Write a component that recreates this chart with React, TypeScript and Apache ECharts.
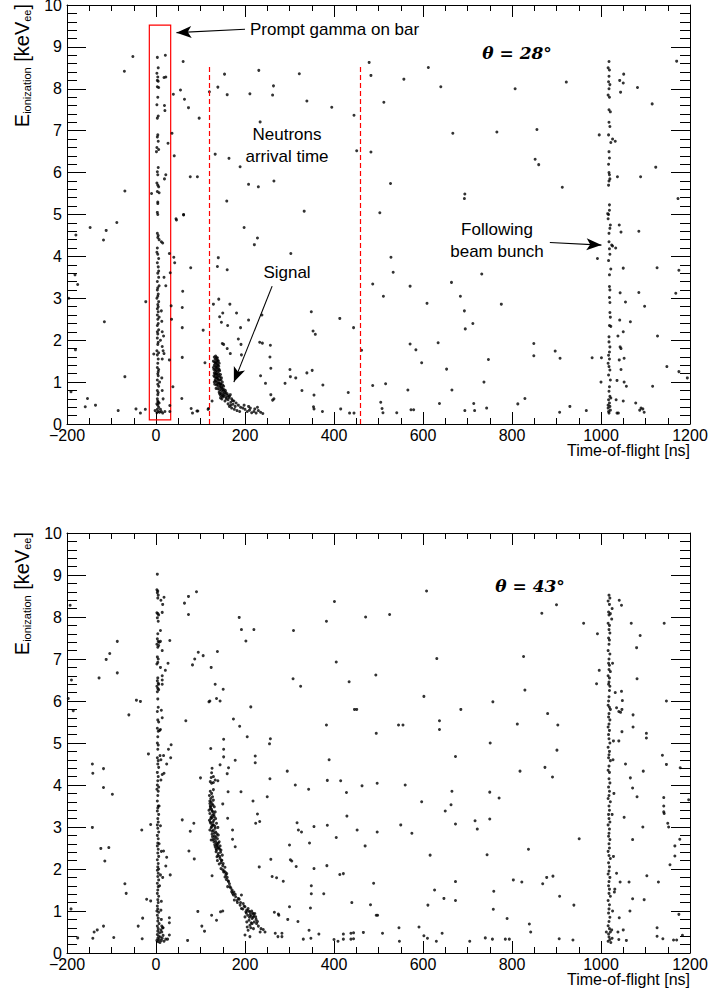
import React, { useEffect, useRef } from "react";
import * as echarts from "echarts";

// ---------- axis ranges / ticks ----------
const X_MIN = -200;
const X_MAX = 1200;
const X_STEP = 200;
const Y_MIN = 0;
const Y_MAX = 10;
const Y_STEP = 1;

// ---------- TOP PANEL (theta = 28 deg) : [time-of-flight ns, E keVee] ----------
const topPromptBand: number[][] = [
  [3, 8.75], [5, 8.5], [2, 8.37], [4, 8.28], [3, 8.2], [5, 8.18], [3, 8.05], [6, 8.03], [4, 7.8], [2, 7.62],
  [5, 7.35], [3, 7.3], [4, 6.9], [3, 6.85], [5, 6.75], [2, 6.6], [6, 6.55], [1, 6.5], [5, 6.12], [3, 6.02],
  [4, 5.95], [2, 5.75], [4, 5.7], [6, 5.66], [3, 5.55], [7, 5.52], [4, 5.3], [3, 5.05], [4, 5.0], [4, 5.26],
  [3, 4.55], [5, 4.5], [4, 4.45], [7, 4.4], [12, 4.35], [15, 4.32], [3, 4.2], [4, 4.05], [6, 3.95], [3, 3.85],
  [5, 3.75], [4, 3.6], [6, 3.5], [3, 3.4], [7, 3.3], [3, 3.2], [5, 3.1], [4, 3.05], [2, 3.0], [6, 2.92],
  [4, 2.85], [3, 2.75], [5, 2.68], [12, 2.7], [3, 2.6], [4, 2.5], [5, 2.4], [13, 2.45], [3, 2.35], [6, 2.25],
  [4, 2.15], [17, 2.1], [3, 2.05], [5, 1.95], [4, 1.9], [14, 1.85], [2, 1.75], [6, 1.7], [-5, 1.67], [3, 1.65],
  [16, 1.75], [18, 1.68], [5, 1.55], [4, 1.45], [14, 1.55], [3, 1.35], [6, 1.3], [4, 1.2], [5, 1.15], [3, 1.05],
  [13, 1.1], [4, 0.95], [6, 0.9], [3, 0.8], [5, 0.75], [14, 0.8], [4, 0.7], [16, 0.6], [3, 0.6], [5, 0.52],
  [2, 0.48], [4, 0.45], [6, 0.4], [3, 0.35], [5, 0.3], [8, 0.28], [12, 0.3], [2, 0.27], [15, 0.26], [20, 0.3],
  [10, 0.35], [7, 0.5], [-2, 0.32], [4, 3.25], [5, 2.8], [3, 2.2], [5, 1.25], [4, 0.55], [6, 3.65], [2, 4.1],
  [7, 2.55], [18, 3.5], [22, 3.3], [14, 2.2], [10, 2.0], [8, 1.0],
];

const topBeamBand: number[][] = [
  [1018, 8.65], [1016, 8.5], [1019, 8.45], [1018, 8.3], [1017, 8.17], [1020, 8.1], [1018, 8.0], [1016, 7.85],
  [1019, 7.8], [1018, 7.5], [1021, 7.45], [1018, 7.2], [1020, 7.1], [1017, 6.9], [1022, 6.72], [1018, 6.5],
  [1019, 6.35], [1017, 6.2], [1018, 6.0], [1019, 5.95], [1020, 5.85], [1018, 5.8], [1017, 5.7], [1019, 5.1],
  [1016, 4.9], [1019, 5.23], [1017, 5.0], [1021, 4.75], [1020, 4.67], [1018, 4.55], [1018, 4.35], [1019, 4.18],
  [1020, 4.05], [1024, 4.27], [1026, 4.25], [1022, 3.7], [1019, 3.56], [1019, 3.28], [1020, 3.2], [1019, 3.02],
  [1020, 2.66], [1021, 2.55], [1019, 2.35], [1022, 2.33], [1018, 2.08], [1018, 1.96], [1020, 1.84], [1019, 1.72],
  [1017, 1.64], [1019, 1.55], [1018, 1.37], [1020, 1.29], [1017, 1.17], [1021, 1.05], [1019, 0.89], [1018, 0.78],
  [1020, 0.66], [1017, 0.58], [1019, 0.5], [1016, 0.38], [1021, 0.33], [1018, 0.26], [1016, 0.45], [1020, 0.42],
  [1017, 0.3], [1022, 0.62], [1016, 1.45], [1020, 2.9], [1017, 3.9],
  [1041, 4.75], [1045, 4.58], [1033, 4.2], [1050, 3.72], [1043, 3.13], [1055, 2.91], [1042, 2.48], [1066, 2.44],
  [1050, 2.2], [1038, 2.1], [1043, 1.84], [1045, 1.8], [1052, 1.57], [1041, 1.53], [1045, 1.3], [1036, 1.04],
  [1052, 1.0], [1057, 0.9], [1050, 0.55], [1034, 0.58], [1036, 0.26], [1039, 0.26], [1000, 1.0], [1001, 1.58],
  [980, 1.58], [992, 3.95],
];

const topSignal: number[][] = [
  [131, 1.6], [134, 1.62], [138, 1.58], [133, 1.55], [136, 1.52], [140, 1.5], [132, 1.48], [135, 1.45], [138, 1.42],
  [142, 1.45], [131, 1.4], [134, 1.38], [137, 1.35], [140, 1.32], [133, 1.3], [136, 1.28], [139, 1.25], [143, 1.27],
  [131, 1.22], [134, 1.2], [137, 1.18], [141, 1.15], [145, 1.18], [132, 1.12], [135, 1.1], [139, 1.08], [143, 1.05],
  [147, 1.1], [134, 1.02], [137, 1.0], [141, 0.98], [145, 0.96], [149, 1.0], [136, 0.93], [140, 0.9], [144, 0.88],
  [148, 0.86], [152, 0.9], [139, 0.84], [143, 0.82], [147, 0.8], [151, 0.78], [156, 0.8], [142, 0.76], [146, 0.73],
  [150, 0.72], [155, 0.7], [160, 0.72], [145, 0.68], [152, 0.65], [158, 0.64], [165, 0.66], [148, 0.6], [162, 0.58],
  [170, 0.6], [175, 0.55], [168, 0.52], [155, 0.55], [180, 0.5], [137, 1.48], [135, 1.35], [138, 1.13], [133, 1.05],
  [146, 0.95], [141, 1.2], [129, 1.35], [130, 1.15], [150, 0.93], [154, 0.75], [149, 0.66],
  [129, 1.5], [130, 1.3], [131, 1.0], [132, 0.95], [133, 1.45], [134, 1.25], [135, 0.85], [136, 1.58], [137, 1.1],
  [138, 0.95], [139, 1.4], [140, 1.05], [142, 1.3], [142, 0.98], [144, 1.12], [146, 1.05], [136, 1.2], [133, 1.18],
  [139, 1.52], [141, 1.38], [144, 0.93], [147, 0.88], [150, 0.83], [153, 0.82], [157, 0.75], [161, 0.68],
  [164, 0.63], [167, 0.7], [172, 0.56], [158, 0.6], [145, 0.62], [143, 0.72], [151, 0.68],
  [162, 0.48], [168, 0.45], [173, 0.47], [178, 0.42], [185, 0.45], [190, 0.4], [170, 0.38], [176, 0.35], [182, 0.32],
  [195, 0.38], [200, 0.35], [205, 0.3], [210, 0.33], [215, 0.27], [220, 0.3], [225, 0.26], [230, 0.32], [235, 0.28],
  [240, 0.25], [198, 0.45], [208, 0.42], [188, 0.3], [212, 0.38], [222, 0.36], [228, 0.4], [165, 0.42],
];

const topScatter: number[][] = [
  [-52, 8.77], [-71, 8.42], [-70, 5.56], [21, 8.8], [18, 8.27], [22, 8.28], [19, 7.6], [20, 7.48], [36, 6.94],
  [27, 6.7], [41, 6.4], [22, 5.95], [19, 5.85], [-10, 5.5], [61, 8.65], [39, 7.87], [55, 7.97], [64, 7.75],
  [73, 7.55], [97, 7.3], [77, 5.9], [93, 5.9], [62, 5.0], [45, 4.9], [120, 7.93], [139, 8.04], [154, 8.35],
  [160, 7.86], [133, 6.44], [164, 6.34], [189, 6.14], [159, 5.32], [208, 5.72], [230, 5.66], [265, 5.8],
  [211, 7.88], [231, 8.44], [234, 7.21], [264, 8.07], [262, 7.85], [322, 8.36], [339, 7.71], [333, 5.08],
  [395, 7.56], [445, 7.37], [451, 6.52], [479, 8.63], [483, 8.32], [483, 6.49], [512, 7.68], [557, 8.23],
  [612, 8.51], [640, 8.05], [667, 6.94], [527, 5.74], [694, 5.49], [693, 5.38], [503, 5.04], [766, 6.97],
  [807, 8.0], [856, 7.03], [852, 6.32], [860, 6.19], [913, 5.65], [922, 8.16], [996, 6.9], [1051, 8.35],
  [1042, 8.2], [1050, 8.14], [1044, 7.92], [1082, 8.03], [1115, 7.64], [1170, 8.66], [1123, 6.13], [1089, 5.9],
  [1037, 5.9], [1173, 5.38], [1015, 5.02], [1026, 6.8], [1032, 6.75],
  [-191, 0.77], [-182, 3.56], [-176, 3.33], [-196, 3.0], [-181, 1.77], [-180, 4.51], [-148, 4.69], [-112, 4.62],
  [-88, 4.81], [-118, 4.39], [-116, 2.44], [-70, 1.13], [-154, 0.61], [-159, 0.41], [-136, 0.45], [-85, 0.32],
  [-45, 0.36], [-35, 0.26], [-24, 0.35], [-23, 2.92], [30, 4.07], [32, 3.61], [34, 2.82], [35, 2.5], [30, 1.53],
  [38, 0.89], [31, 0.44], [31, 0.3], [40, 3.98], [42, 3.85], [46, 4.87], [62, 4.99], [60, 3.17], [59, 2.78],
  [59, 2.3], [59, 1.59], [58, 0.61], [78, 3.73], [79, 0.37], [82, 0.26], [94, 0.31], [106, 2.24], [110, 1.46],
  [118, 0.37], [129, 2.86], [140, 3.97], [138, 3.76], [141, 2.98], [160, 3.68], [150, 2.65], [143, 2.56],
  [147, 2.43], [161, 2.35], [166, 2.86], [181, 2.65], [149, 1.92], [152, 1.9], [160, 1.8], [167, 1.68], [190, 2.3],
  [208, 2.48], [198, 4.69], [228, 4.44], [221, 4.28], [303, 4.07], [238, 2.6], [185, 2.03], [191, 1.9], [192, 1.65],
  [233, 1.95], [239, 1.93], [257, 1.88], [256, 1.6], [258, 1.33], [235, 1.15], [246, 0.97], [258, 0.7], [262, 0.57],
  [265, 0.6], [301, 1.3], [302, 1.13], [290, 0.97], [314, 1.1], [328, 0.8], [339, 1.22], [351, 1.28], [349, 2.68],
  [353, 2.22], [358, 2.14], [355, 0.69], [354, 0.41], [355, 0.36], [374, 0.3], [375, 0.93], [413, 2.52],
  [444, 2.3], [432, 0.75], [415, 0.36], [435, 0.26], [445, 0.26], [92, 0.31], [117, 0.35], [126, 0.55],
  [487, 3.34], [511, 3.05], [528, 3.98], [533, 3.62], [571, 3.29], [609, 2.88], [664, 3.38], [684, 3.05],
  [693, 2.7], [695, 2.27], [712, 2.4], [732, 3.58], [776, 2.86], [571, 1.91], [584, 1.77], [597, 1.46],
  [634, 1.94], [653, 1.31], [665, 0.81], [566, 0.81], [516, 0.96], [487, 0.92], [505, 0.52], [508, 0.37],
  [510, 0.27], [541, 0.27], [573, 0.34], [579, 0.34], [637, 0.49], [694, 0.32], [716, 0.32], [714, 0.49],
  [737, 1.0], [747, 1.54], [743, 0.38], [813, 0.48], [829, 0.61], [849, 1.92], [849, 1.63], [897, 1.74],
  [908, 1.57], [907, 0.28], [930, 0.42], [967, 0.32], [462, 1.76], [1085, 4.6], [1126, 3.73], [1085, 3.14],
  [1098, 2.81], [1127, 2.1], [1148, 1.37], [1175, 1.25], [1194, 1.1], [1116, 0.9], [1078, 0.5], [1087, 0.33],
  [1090, 0.38], [1094, 0.36], [1097, 0.28], [1175, 3.67], [1168, 3.12],
];

// ---------- BOTTOM PANEL (theta = 43 deg) ----------
const bottomPromptBand: number[][] = [
  [3, 9.02], [2, 8.65], [4, 8.62], [3, 8.58], [5, 8.52], [4, 8.45], [2, 8.1], [4, 8.08], [6, 8.05], [3, 7.98],
  [5, 7.9], [4, 7.6], [3, 7.48], [5, 7.42], [2, 7.35], [6, 7.32], [4, 7.28], [3, 7.05], [5, 7.0], [4, 6.92],
  [2, 6.88], [4, 6.55], [3, 6.48], [5, 6.42], [2, 6.35], [4, 6.3], [6, 6.27], [3, 6.22], [4, 6.05], [5, 5.85],
  [3, 5.75], [4, 5.55], [6, 5.5], [3, 5.35], [5, 5.28], [4, 5.15], [3, 5.0], [5, 4.95], [4, 4.85], [3, 4.65],
  [5, 4.58], [4, 4.5], [6, 4.42], [3, 4.3], [5, 4.2], [4, 4.1], [3, 4.0], [6, 3.95], [5, 3.85], [4, 3.75],
  [3, 3.62], [5, 3.5], [4, 3.45], [3, 3.38], [6, 3.3], [4, 3.2], [5, 3.12], [3, 3.05], [4, 2.97], [6, 2.88],
  [3, 2.8], [5, 2.72], [4, 2.62], [3, 2.55], [5, 2.47], [4, 2.38], [6, 2.3], [3, 2.22], [5, 2.13], [4, 2.05],
  [3, 1.97], [5, 1.9], [4, 1.82], [6, 1.74], [3, 1.66], [5, 1.58], [4, 1.5], [3, 1.42], [6, 1.35], [4, 1.27],
  [5, 1.2], [3, 1.12], [4, 1.05], [6, 0.97], [3, 0.9], [5, 0.83], [4, 0.76], [7, 0.7], [3, 0.64], [5, 0.58],
  [4, 0.52], [8, 0.48], [3, 0.44], [6, 0.4], [10, 0.38], [4, 0.35], [7, 0.32], [2, 0.3], [12, 0.3], [5, 0.27],
  [9, 0.25], [14, 0.35], [16, 0.42], [11, 0.55], [15, 0.6], [13, 0.5], [18, 0.28], [2, 3.9], [6, 2.0], [2, 1.0],
  [8, 1.6], [7, 2.6], [7, 3.5], [9, 4.7], [8, 5.3], [6, 6.4], [7, 7.4],
];

const bottomBeamBand: number[][] = [
  [1018, 8.52], [1020, 8.45], [1016, 8.38], [1019, 8.3], [1017, 8.12], [1021, 8.08], [1018, 8.05], [1016, 7.85],
  [1019, 7.8], [1018, 7.7], [1020, 7.62], [1017, 7.5], [1019, 7.45], [1018, 7.35], [1016, 7.2], [1020, 7.12],
  [1018, 7.0], [1017, 6.9], [1019, 6.85], [1018, 6.75], [1021, 6.7], [1016, 6.6], [1019, 6.55], [1018, 6.45],
  [1017, 6.4], [1020, 6.35], [1019, 6.25], [1018, 6.1], [1017, 6.0], [1016, 5.9], [1019, 5.85], [1021, 5.8],
  [1018, 5.7], [1017, 5.62], [1020, 5.55], [1018, 5.45], [1016, 5.38], [1019, 5.3], [1017, 5.2], [1018, 5.1],
  [1020, 5.0], [1016, 4.9], [1019, 4.8], [1018, 4.72], [1017, 4.65], [1021, 4.58], [1018, 4.45], [1016, 4.35],
  [1019, 4.3], [1018, 4.15], [1020, 4.05], [1017, 3.95], [1019, 3.85], [1018, 3.75], [1016, 3.68], [1021, 3.6],
  [1018, 3.5], [1019, 3.4], [1017, 3.3], [1018, 3.2], [1020, 3.12], [1016, 3.05], [1019, 2.95], [1018, 2.85],
  [1017, 2.78], [1020, 2.7], [1018, 2.6], [1019, 2.5], [1016, 2.42], [1018, 2.32], [1021, 2.25], [1017, 2.15],
  [1019, 2.05], [1018, 1.95], [1016, 1.88], [1020, 1.8], [1018, 1.7], [1017, 1.6], [1019, 1.52], [1018, 1.42],
  [1021, 1.35], [1016, 1.25], [1019, 1.15], [1018, 1.05], [1017, 0.95], [1020, 0.85], [1018, 0.75], [1016, 0.65],
  [1019, 0.58], [1021, 0.5], [1017, 0.45], [1018, 0.38], [1020, 0.32], [1016, 0.28], [1022, 0.25], [1025, 0.35],
  [1024, 0.55], [1026, 1.0], [1028, 2.3], [1025, 3.3], [1027, 4.6], [1026, 6.9], [1025, 8.2], [1024, 7.95],
  [1012, 0.5], [1030, 1.45], [1029, 3.8], [1028, 5.05],
];

const bottomCurve: number[][] = [
  [126, 4.4], [125, 4.29], [124, 4.18], [129, 4.2], [122, 4.08], [125, 4.04], [129, 4.06], [133, 4.12], [139, 4.1],
  [129, 3.89], [125, 3.8], [123, 3.68], [121, 3.56], [123, 3.48], [119, 3.4], [121, 3.32], [124, 3.24], [120, 3.16],
  [123, 3.09], [125, 3.01], [121, 2.93], [129, 3.64], [131, 3.48], [133, 3.36], [127, 3.28], [130, 3.16], [134, 3.2],
  [136, 3.09], [129, 3.05], [133, 2.97], [139, 2.99], [131, 2.85], [135, 2.77], [140, 2.81], [127, 2.77], [124, 2.69],
  [130, 2.65], [136, 2.61], [142, 2.65], [133, 2.53], [139, 2.51], [144, 2.55], [135, 2.41], [140, 2.37], [146, 2.45],
  [149, 2.33], [137, 2.29], [144, 2.25], [148, 2.21], [142, 2.12], [151, 2.13], [155, 2.04], [146, 2.01], [152, 1.93],
  [159, 1.89], [155, 1.81], [160, 1.8], [163, 1.7], [166, 1.58], [161, 1.58], [170, 1.46], [174, 1.38], [179, 1.34],
  [176, 1.26], [185, 1.3], [192, 1.38], [183, 1.2], [189, 1.14], [196, 1.18], [192, 1.06], [200, 1.1], [204, 1.02],
  [207, 1.06], [211, 0.98], [215, 1.0], [206, 0.9], [213, 0.88], [219, 0.93], [222, 0.94], [200, 0.86], [209, 0.78],
  [216, 0.82], [221, 0.74], [204, 0.74], [211, 0.66], [226, 0.7], [230, 0.64], [207, 0.54], [219, 0.58], [236, 0.58],
  [241, 0.56], [200, 0.43], [211, 0.39], [234, 0.5], [245, 0.5], [122, 3.85], [127, 3.72], [124, 3.6], [128, 3.52],
  [122, 3.44], [126, 3.38], [130, 3.3], [123, 3.2], [128, 3.12], [126, 2.9], [132, 2.72], [138, 2.58], [143, 2.47],
  [136, 2.45], [147, 2.2], [150, 1.98], [157, 1.86], [165, 1.65], [172, 1.42], [182, 1.25], [195, 1.05], [203, 0.95],
  [212, 0.92], [218, 0.85], [225, 0.8], [214, 0.72], [205, 0.62],
  [120, 3.75], [121, 3.62], [126, 3.55], [122, 3.5], [125, 3.42], [128, 3.36], [131, 3.25], [126, 3.22], [122, 3.12],
  [127, 3.05], [132, 3.02], [124, 2.98], [129, 2.92], [134, 2.88], [137, 2.84], [126, 2.83], [131, 2.78], [138, 2.72],
  [128, 2.7], [134, 2.66], [140, 2.62], [132, 2.58], [137, 2.55], [141, 2.5], [135, 2.48], [145, 2.4], [139, 2.32],
  [143, 2.3], [138, 2.2], [146, 2.15], [150, 2.08], [153, 1.95], [156, 1.92], [158, 1.75], [162, 1.72], [168, 1.55],
  [171, 1.5], [175, 1.45], [178, 1.4], [187, 1.28], [190, 1.2], [198, 1.12], [202, 0.98], [208, 1.0], [210, 0.85],
  [217, 0.95], [220, 0.88], [224, 0.86], [228, 0.75], [213, 0.6], [216, 0.7],
];

const bottomScatter: number[][] = [
  [-193, 8.28], [-190, 6.5], [-197, 6.06], [-186, 5.77], [-128, 6.55], [-112, 6.99], [-104, 7.13], [-87, 6.67],
  [-87, 7.42], [-61, 5.67], [-44, 6.02], [-35, 5.99], [11, 8.4], [18, 8.47], [15, 8.3], [14, 8.11], [10, 7.68],
  [10, 7.42], [14, 7.2], [10, 6.8], [14, 6.6], [14, 6.5], [14, 6.4], [21, 6.73], [27, 6.9], [31, 7.44], [12, 5.78],
  [10, 5.32], [14, 5.6], [67, 5.53], [64, 8.33], [73, 8.49], [91, 8.6], [73, 8.06], [95, 7.16], [106, 7.08],
  [87, 7.0], [82, 6.86], [124, 6.8], [133, 6.4], [138, 7.18], [151, 6.28], [119, 5.98], [121, 6.0], [136, 6.06],
  [144, 6.0], [174, 5.57], [187, 7.99], [192, 7.7], [220, 7.7], [202, 7.43], [188, 5.4], [213, 5.86], [205, 5.15],
  [152, 5.09], [257, 5.1], [255, 4.98], [309, 7.68], [308, 6.53], [325, 6.35], [383, 7.9], [401, 8.37], [405, 6.93],
  [383, 5.43], [434, 6.46], [446, 5.8], [451, 5.8], [608, 8.62], [471, 8.0], [525, 8.06], [494, 6.62], [631, 7.01],
  [602, 6.11], [495, 5.23], [545, 5.43], [555, 5.43], [637, 5.53], [637, 5.32], [685, 5.8], [757, 5.98], [751, 5.0],
  [812, 5.45], [826, 7.06], [829, 6.26], [867, 8.09], [900, 8.29], [880, 5.7], [903, 5.43], [961, 7.85], [992, 7.6],
  [996, 6.73], [990, 6.41], [1046, 8.28], [1041, 8.4], [1068, 7.85], [1088, 7.56], [1080, 7.27], [1081, 6.53],
  [1142, 7.85], [1147, 6.0], [1046, 6.23], [1048, 6.01], [1047, 5.8], [1044, 5.73], [1047, 5.27], [1072, 5.67],
  [1072, 5.38], [1102, 5.23], [1102, 5.12], [1040, 5.05], [1035, 5.84], [1040, 5.75], [1032, 6.2],
  [-143, 4.5], [-142, 4.28], [-118, 4.39], [-118, 3.94], [-98, 3.78], [-143, 2.99], [-124, 2.49], [-106, 2.51],
  [-115, 2.19], [-70, 1.65], [-67, 1.42], [-191, 1.05], [-176, 0.36], [-142, 0.35], [-139, 0.5], [-132, 0.55],
  [-118, 0.64], [-95, 0.37], [-40, 0.64], [-31, 0.34], [-30, 0.83], [-21, 1.28], [-12, 1.24], [-32, 2.93],
  [-12, 3.06], [-17, 4.74], [11, 4.6], [17, 4.7], [14, 4.25], [18, 4.28], [11, 4.12], [24, 4.5], [28, 4.85],
  [34, 4.96], [33, 4.65], [10, 3.03], [12, 2.42], [17, 2.43], [24, 2.28], [22, 2.07], [10, 1.86], [15, 1.8],
  [32, 1.86], [12, 1.23], [11, 1.02], [12, 0.8], [13, 0.64], [16, 0.6], [30, 0.84], [30, 0.72], [30, 0.43],
  [26, 0.33], [22, 0.33], [59, 3.17], [85, 3.09], [77, 2.9], [74, 2.43], [86, 2.24], [71, 0.3], [94, 0.99],
  [103, 0.64], [109, 0.52], [100, 4.17], [123, 4.87], [126, 1.84], [125, 0.9], [136, 0.78], [145, 0.98], [150, 1.0],
  [144, 4.48], [152, 4.67], [152, 4.85], [163, 4.41], [160, 4.27], [178, 4.59], [191, 3.84], [162, 3.84], [150, 3.55],
  [161, 3.21], [223, 4.69], [223, 4.53], [218, 3.62], [250, 3.72], [256, 4.15], [228, 3.31], [233, 3.13], [224, 3.09],
  [232, 2.05], [258, 2.23], [261, 1.82], [271, 1.79], [286, 1.71], [172, 2.93], [172, 2.71], [178, 2.53], [266, 0.97],
  [275, 0.93], [276, 0.9], [296, 0.8], [300, 1.1], [319, 0.75], [268, 0.47], [274, 0.39], [283, 0.47], [283, 0.39],
  [295, 4.33], [313, 4.0], [343, 3.9], [317, 3.1], [320, 2.93], [327, 2.88], [300, 2.57], [302, 2.22], [305, 2.19],
  [315, 2.06], [345, 2.62], [355, 3.01], [349, 1.6], [349, 1.41], [355, 2.01], [347, 1.07], [344, 0.54], [331, 0.33],
  [348, 0.35], [366, 0.45], [377, 1.41], [384, 2.08], [385, 3.04], [385, 4.11], [389, 4.6], [405, 2.75], [413, 1.87],
  [421, 1.89], [415, 4.1], [428, 3.82], [429, 3.26], [452, 2.93], [440, 1.2], [400, 0.32], [409, 0.28], [421, 0.45],
  [421, 0.33], [444, 0.48], [444, 0.34], [901, 4.83], [673, 4.68], [818, 4.33], [874, 4.42], [891, 4.19], [463, 3.98],
  [497, 4.04], [560, 4.0], [665, 3.85], [750, 3.83], [771, 3.69], [597, 3.6], [663, 3.53], [650, 3.38], [717, 3.15],
  [722, 2.95], [750, 3.19], [673, 3.07], [550, 3.05], [575, 2.85], [497, 2.88], [470, 2.55], [616, 2.33], [744, 2.34],
  [837, 2.47], [951, 2.72], [489, 1.66], [626, 1.5], [673, 1.7], [673, 1.25], [647, 1.3], [611, 1.14], [482, 1.15],
  [759, 1.47], [758, 1.04], [803, 1.74], [822, 1.69], [869, 1.65], [878, 1.8], [892, 1.83], [907, 1.35], [939, 1.14],
  [495, 0.9], [498, 0.9], [789, 0.82], [839, 0.69], [842, 0.5], [546, 0.6], [591, 0.62], [438, 0.47], [438, 0.33],
  [466, 0.49], [509, 0.47], [547, 0.28], [602, 0.41], [610, 0.35], [630, 0.28], [643, 0.47], [705, 0.28], [740, 0.36],
  [756, 0.33], [785, 0.33], [794, 0.33], [906, 0.34], [937, 0.31], [1052, 3.23], [1071, 2.7], [1094, 3.0],
  [1138, 4.71], [1147, 4.49], [1178, 4.41], [1197, 3.65], [1095, 4.33], [1066, 4.17], [1071, 3.93], [1081, 3.72],
  [1055, 4.5], [1141, 3.7], [1141, 3.5], [1141, 3.36], [1142, 3.32], [1150, 3.09], [1152, 3.0], [1177, 2.71],
  [1166, 2.55], [1166, 2.31], [1155, 2.1], [1103, 1.84], [1063, 1.69], [1043, 1.69], [1071, 1.29], [1097, 1.27],
  [1129, 1.69], [1065, 1.0], [1175, 0.92], [1041, 0.84], [1050, 0.55], [1126, 0.6], [1126, 0.4], [1139, 0.34],
  [1163, 0.31], [1170, 0.31], [1183, 0.42], [1040, 0.32], [1057, 0.3], [1038, 0.5], [1035, 1.9], [1031, 1.52],
];

// ---------- annotations (data coordinates) ----------
const promptBox = [[-15, 0.1], [33, 9.52]];
const neutronWindow = [119, 459];
const neutronWindowTop = 8.55;
const promptArrow = [[200, 9.42], [46, 9.34]];
const signalArrow = [[261, 3.29], [175, 1.0]];
const bunchArrow = [[885, 4.33], [1001, 4.27]];

const SANS = '"Liberation Sans", Arial, Helvetica, sans-serif';
const SERIF = '"DejaVu Serif", "Liberation Serif", serif';
const BLACK = "#000";

function fmtX(v: number) {
  return v < 0 ? "\u2212" + Math.abs(v) : String(v);
}

function axesFor(gridIndex: number) {
  const line = { color: BLACK, width: 1 };
  const xs = [
    {
      type: "value", gridIndex, position: "bottom", min: X_MIN, max: X_MAX, interval: X_STEP,
      axisLine: { show: true, onZero: false, lineStyle: line },
      axisTick: { show: true, inside: true, length: 12, lineStyle: line },
      minorTick: { show: true, splitNumber: 4, length: 6, lineStyle: line },
      splitLine: { show: false }, minorSplitLine: { show: false },
      axisLabel: { show: true, margin: 3, color: BLACK, fontSize: 16, fontFamily: SANS, formatter: fmtX,
        showMinLabel: true, showMaxLabel: true },
    },
    {
      type: "value", gridIndex, position: "top", min: X_MIN, max: X_MAX, interval: X_STEP,
      axisLine: { show: true, onZero: false, lineStyle: line },
      axisTick: { show: true, inside: true, length: 12, lineStyle: line },
      minorTick: { show: true, splitNumber: 4, length: 6, lineStyle: line },
      splitLine: { show: false }, minorSplitLine: { show: false },
      axisLabel: { show: false },
    },
  ];
  const ys = [
    {
      type: "value", gridIndex, position: "left", min: Y_MIN, max: Y_MAX, interval: Y_STEP,
      axisLine: { show: true, onZero: false, lineStyle: line },
      axisTick: { show: true, inside: true, length: 19, lineStyle: line },
      minorTick: { show: true, splitNumber: 5, length: 10, lineStyle: line },
      splitLine: { show: false }, minorSplitLine: { show: false },
      axisLabel: { show: true, margin: 5, color: BLACK, fontSize: 16, fontFamily: SANS,
        showMinLabel: true, showMaxLabel: true },
    },
    {
      type: "value", gridIndex, position: "right", min: Y_MIN, max: Y_MAX, interval: Y_STEP,
      axisLine: { show: true, onZero: false, lineStyle: line },
      axisTick: { show: true, inside: true, length: 19, lineStyle: line },
      minorTick: { show: true, splitNumber: 5, length: 10, lineStyle: line },
      splitLine: { show: false }, minorSplitLine: { show: false },
      axisLabel: { show: false },
    },
  ];
  return { xs, ys };
}

function txt(x: number, y: number, text: string, opts: any = {}) {
  const align = opts.align || "center";
  return {
    type: "text", x, y, silent: true, rotation: opts.rotation || 0,
    style: {
      text, fill: BLACK,
      fontSize: opts.fontSize || 17,
      fontFamily: opts.fontFamily || SANS,
      fontWeight: opts.fontWeight || "normal",
      fontStyle: opts.fontStyle || "normal",
      align, textAlign: align,
      verticalAlign: "middle", textVerticalAlign: "middle",
      rich: opts.rich,
    },
  };
}

const yTitleRich = {
  b: { fontSize: 20, fontFamily: SANS, lineHeight: 20, verticalAlign: "bottom", fill: BLACK },
  s: { fontSize: 11, fontFamily: SANS, lineHeight: 8, verticalAlign: "bottom", fill: BLACK },
};
const yTitleText = "{b|E}{s|ionization}{b| [keV}{s|ee}{b|]}";

function arrowPair(pts: number[][], curveness: number) {
  return [
    { coord: pts[0], symbol: "none", lineStyle: { color: BLACK, width: 1.1, type: "solid", curveness } },
    { coord: pts[1], symbol: "arrow", symbolSize: [9, 15] },
  ];
}

export default function App() {
  const ref = useRef<HTMLDivElement>(null);

  useEffect(() => {
    if (!ref.current) return;
    const chart = echarts.init(ref.current, undefined, { renderer: "svg" });
    const a0 = axesFor(0);
    const a1 = axesFor(1);

    const option: any = {
      animation: false,
      backgroundColor: "#fff",
      grid: [
        { left: 67, top: 5, width: 623, height: 419, containLabel: false, outerBoundsMode: "none" },
        { left: 67, top: 533, width: 623, height: 420, containLabel: false, outerBoundsMode: "none" },
      ],
      xAxis: [...a0.xs, ...a1.xs],
      yAxis: [...a0.ys, ...a1.ys],
      series: [
        {
          type: "scatter", xAxisIndex: 0, yAxisIndex: 0, symbol: "circle", symbolSize: 3,
          itemStyle: { color: BLACK }, silent: true,
          data: [...topPromptBand, ...topBeamBand, ...topSignal, ...topScatter],
          markArea: {
            silent: true,
            itemStyle: { color: "rgba(0,0,0,0)", borderColor: "#ff0000", borderWidth: 1.2 },
            label: { show: false },
            data: [[{ coord: promptBox[0] }, { coord: promptBox[1] }]],
          },
          markLine: {
            silent: true, animation: false,
            label: { show: false },
            symbol: ["none", "none"],
            data: [
              [
                { coord: [neutronWindow[0], 0], symbol: "none", lineStyle: { color: "#ff0000", width: 1.2, type: [5, 3] } },
                { coord: [neutronWindow[0], neutronWindowTop], symbol: "none" },
              ],
              [
                { coord: [neutronWindow[1], 0], symbol: "none", lineStyle: { color: "#ff0000", width: 1.2, type: [5, 3] } },
                { coord: [neutronWindow[1], neutronWindowTop], symbol: "none" },
              ],
              arrowPair(promptArrow, -0.04),
              arrowPair(signalArrow, 0.22),
              arrowPair(bunchArrow, 0.08),
            ],
          },
        },
        {
          type: "scatter", xAxisIndex: 2, yAxisIndex: 2, symbol: "circle", symbolSize: 3,
          itemStyle: { color: BLACK }, silent: true,
          data: [...bottomPromptBand, ...bottomBeamBand, ...bottomCurve, ...bottomScatter],
        },
      ],
      graphic: {
        elements: [
          txt(250, 29, "Prompt gamma on bar", { align: "left" }),
          txt(287, 134, "Neutrons"),
          txt(287, 156, "arrival time"),
          txt(287, 272, "Signal"),
          txt(497, 229, "Following"),
          txt(497, 251, "beam bunch"),
          txt(517, 53, "\u03b8 = 28\u00b0", { fontFamily: SERIF, fontWeight: "bold", fontStyle: "italic" }),
          txt(530, 586, "\u03b8 = 43\u00b0", { fontFamily: SERIF, fontWeight: "bold", fontStyle: "italic" }),
          txt(690, 450, "Time-of-flight [ns]", { align: "right", fontSize: 16 }),
          txt(690, 979, "Time-of-flight [ns]", { align: "right", fontSize: 16 }),
          txt(22, 4, yTitleText, { align: "right", rotation: Math.PI / 2, rich: yTitleRich }),
          txt(22, 532, yTitleText, { align: "right", rotation: Math.PI / 2, rich: yTitleRich }),
        ],
      },
    };

    chart.setOption(option);
    return () => chart.dispose();
  }, []);

  return (
    <div
      ref={ref}
      style={{ position: "absolute", left: 0, top: 0, width: 709, height: 998, background: "#fff" }}
    />
  );
}
